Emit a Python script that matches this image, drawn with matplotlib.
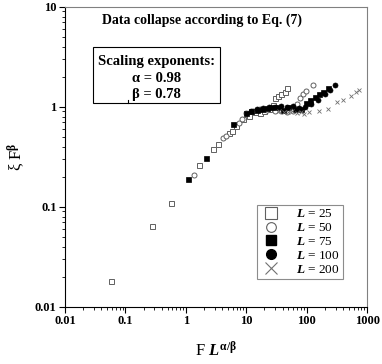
import matplotlib
matplotlib.use("Agg")
import matplotlib.pyplot as plt
from matplotlib.lines import Line2D
from matplotlib.patches import Rectangle

plt.rcParams['font.family'] = ['Liberation Serif', 'DejaVu Serif']
plt.rcParams['mathtext.fontset'] = 'custom'
plt.rcParams['mathtext.rm'] = 'Liberation Serif:bold'
plt.rcParams['mathtext.it'] = 'Liberation Serif:bold:italic'
plt.rcParams['mathtext.bf'] = 'Liberation Serif:bold'

# scaled data
x_L25 = [0.057, 0.28, 0.56, 1.65, 2.8, 3.4, 5.2, 5.9, 6.9, 9.0, 11, 14, 17, 20, 24, 28, 30, 34, 38, 44, 48]
y_L25 = [0.018, 0.065, 0.11, 0.26, 0.38, 0.43, 0.55, 0.58, 0.64, 0.76, 0.82, 0.88, 0.87, 0.92, 0.95, 1.05, 1.22, 1.3, 1.36, 1.4, 1.55]

x_L50 = [1.37, 4.05, 4.6, 7.6, 8.5, 10, 13, 17, 22, 30, 38, 48, 60, 68, 78, 88, 96, 125]
y_L50 = [0.21, 0.49, 0.51, 0.69, 0.76, 0.86, 0.92, 0.95, 0.94, 0.91, 0.9, 0.89, 0.91, 1.08, 1.22, 1.35, 1.43, 1.67]

x_L75 = [1.1, 2.2, 6.0, 10, 12, 15, 18, 22, 27, 33, 40, 50, 65, 80, 99, 113, 137, 161, 188, 227]
y_L75 = [0.19, 0.31, 0.68, 0.87, 0.9, 0.93, 0.96, 0.97, 1.0, 1.0, 0.93, 1.0, 0.96, 0.95, 1.09, 1.16, 1.25, 1.35, 1.4, 1.55]

x_L100 = [12, 15, 19, 24, 30, 38, 48, 60, 75, 95, 120, 155, 200, 240, 292]
y_L100 = [0.92, 0.95, 0.97, 0.99, 1.0, 1.01, 1.0, 1.02, 0.98, 1.0, 1.06, 1.16, 1.35, 1.49, 1.67]

x_L200 = [35, 42, 50, 58, 68, 80, 92, 110, 161, 228, 312, 400, 550, 650, 740]
y_L200 = [0.91, 0.89, 0.88, 0.9, 0.87, 0.89, 0.85, 0.88, 0.92, 0.96, 1.11, 1.17, 1.29, 1.41, 1.49]

legend_labels = ['$L$ = 25', '$L$ = 50', '$L$ = 75', '$L$ = 100', '$L$ = 200']

fig = plt.figure(figsize=(3.82, 3.64), dpi=100)
ax = fig.add_axes([0.170, 0.157, 0.791, 0.824])

ax.plot(x_L25, y_L25, ls='none', marker='s', ms=3.6, mfc='white', mec='#606060', mew=0.7)
ax.plot(x_L50, y_L50, ls='none', marker='o', ms=3.6, mfc='white', mec='#606060', mew=0.7)
ax.plot(x_L75, y_L75, ls='none', marker='s', ms=3.6, mfc='black', mec='black', mew=0.5)
ax.plot(x_L100, y_L100, ls='none', marker='o', ms=3.6, mfc='black', mec='black', mew=0.5)
ax.plot(x_L200, y_L200, ls='none', marker='x', ms=3.2, mec='#707070', mew=0.6)

ax.set_xscale('log')
ax.set_yscale('log')
ax.set_xlim(0.01, 1000)
ax.set_ylim(0.01, 10)

ax.set_xticks([0.01, 0.1, 1, 10, 100, 1000])
ax.set_xticklabels(['0.01', '0.1', '1', '10', '100', '1000'])
ax.set_yticks([0.01, 0.1, 1, 10])
ax.set_yticklabels(['0.01', '0.1', '1', '10'])
ax.tick_params(which='major', direction='out', length=4, width=0.8, labelsize=9, pad=2)
ax.tick_params(which='minor', direction='out', length=2, width=0.6)
for lab in ax.get_xticklabels() + ax.get_yticklabels():
    lab.set_fontweight('bold')

ax.spines['top'].set_color('#808080')
ax.spines['right'].set_color('#808080')

ax.set_xlabel('F $L^{\\mathrm{α/β}}$', fontsize=12, labelpad=10)
ax.set_ylabel('ξ F$^{\\mathrm{β}}$', fontsize=12, labelpad=6)

ax.text(0.455, 0.955, 'Data collapse according to Eq. (7)', transform=ax.transAxes,
        ha='center', va='center', fontsize=10, fontweight='bold')

# scaling exponents box
ax.add_patch(Rectangle((0.093, 0.68), 0.42, 0.187, transform=ax.transAxes,
                       fill=False, ec='black', lw=0.8))
ax.plot([0.209, 0.209], [0.68, 0.69], transform=ax.transAxes, color='black', lw=0.8)
ax.text(0.303, 0.818, 'Scaling exponents:', transform=ax.transAxes,
        ha='center', va='center', fontsize=10.5, fontweight='bold')
ax.text(0.303, 0.762, 'α = 0.98', transform=ax.transAxes,
        ha='center', va='center', fontsize=10.5, fontweight='bold')
ax.text(0.303, 0.708, 'β = 0.78', transform=ax.transAxes,
        ha='center', va='center', fontsize=10.5, fontweight='bold')

handles = [
    Line2D([], [], ls='none', marker='s', ms=8, mfc='white', mec='#606060', mew=0.8),
    Line2D([], [], ls='none', marker='o', ms=7, mfc='white', mec='#606060', mew=0.8),
    Line2D([], [], ls='none', marker='s', ms=7, mfc='black', mec='black'),
    Line2D([], [], ls='none', marker='o', ms=7, mfc='black', mec='black'),
    Line2D([], [], ls='none', marker='x', ms=8, mec='#707070', mew=0.8),
]
leg = ax.legend(handles, legend_labels, loc='lower right', bbox_to_anchor=(0.921, 0.093),
                fontsize=9.5, frameon=True, fancybox=False, edgecolor='#707070',
                borderpad=0.25, labelspacing=0.12, handletextpad=1.2, handlelength=1.5,
                borderaxespad=0)
leg.get_frame().set_linewidth(0.8)

fig.savefig('out.png', dpi=100)
